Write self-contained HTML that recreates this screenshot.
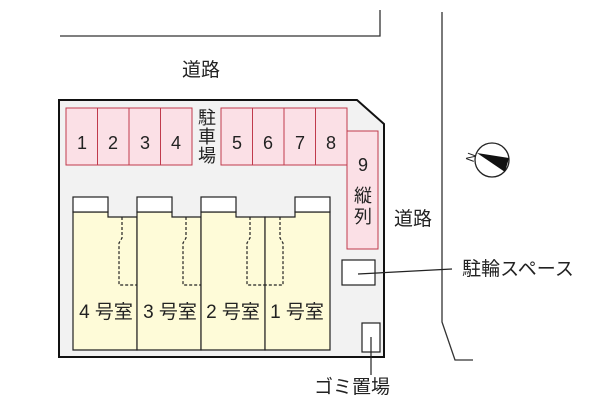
<!DOCTYPE html>
<html><head><meta charset="utf-8"><style>
body{margin:0;background:#fff}
svg text{font-family:"Liberation Sans","Noto Sans CJK JP",sans-serif;fill:#222}
</style></head><body>
<svg width="600" height="400" viewBox="0 0 600 400" xmlns="http://www.w3.org/2000/svg">
<g stroke="#333" stroke-width="1.3" fill="none">
<path d="M60 36 H380 V10"/>
<path d="M442 12 V322 L455 360 H473"/>
</g>
<path d="M59 100 H357 L384 124 V357 H59 Z" fill="#f2f2f2" stroke="#111" stroke-width="2"/>
<g fill="#fbe0e6" stroke="#c03a4c" stroke-width="1">
<rect x="66" y="108" width="31.5" height="57"/><rect x="97.5" y="108" width="31.5" height="57"/>
<rect x="129" y="108" width="31.5" height="57"/><rect x="160.5" y="108" width="31.5" height="57"/>
<rect x="221" y="108" width="31.5" height="57"/><rect x="252.5" y="108" width="31.5" height="57"/>
<rect x="284" y="108" width="31.5" height="57"/><rect x="315.5" y="108" width="31.5" height="57"/>
<rect x="347" y="131" width="31" height="118"/>
</g>
<g font-size="18" text-anchor="middle">
<text x="82" y="149">1</text><text x="113" y="149">2</text><text x="145" y="149">3</text><text x="176" y="149">4</text>
<text x="237" y="149">5</text><text x="268" y="149">6</text><text x="300" y="149">7</text><text x="331" y="149">8</text>
<text x="363" y="171">9</text>
<text x="363" y="202">縦</text><text x="363" y="223">列</text>
<text x="207" y="124">駐</text><text x="207" y="143">車</text><text x="207" y="162">場</text>
</g>
<g fill="#fefbd8" stroke="#222" stroke-width="1.2">
<path d="M73 212 H108 V217 H137 V350 H73 Z"/>
<path d="M137 212 H172 V217 H201 V350 H137 Z"/>
<path d="M201 212 H236 V217 H265 V350 H201 Z"/>
<path d="M265 217 H295 V212 H330 V350 H265 Z"/>
</g>
<g fill="#fff" stroke="#222" stroke-width="1.2">
<rect x="73" y="197" width="35" height="15"/><rect x="137" y="197" width="35" height="15"/>
<rect x="201" y="197" width="35" height="15"/><rect x="295" y="197" width="35" height="15"/>
</g>
<g stroke="#222" stroke-width="1.2" fill="none" stroke-dasharray="3,2">
<path d="M122 217 V238 L119 243 V285 H137"/>
<path d="M186 217 V238 L183 243 V285 H201"/>
<path d="M250 217 V238 L247 243 V285 H265"/>
<path d="M280 217 V238 L283 243 V285 H265"/>
</g>
<g font-size="19" text-anchor="middle">
<text x="106" y="318">4 号室</text><text x="170" y="318">3 号室</text>
<text x="233" y="318">2 号室</text><text x="297" y="318">1 号室</text>
<text x="201" y="76">道路</text><text x="413" y="225">道路</text>
<text x="518" y="275">駐輪スペース</text>
<text x="352" y="393">ゴミ置場</text>
</g>
<rect x="342" y="260" width="33" height="25" fill="#fff" stroke="#222" stroke-width="1.2"/>
<rect x="362" y="323" width="18" height="29" fill="#fff" stroke="#222" stroke-width="1.2"/>
<g stroke="#222" stroke-width="1.2"><path d="M358 274 L452 269"/><path d="M371 337 V375"/></g>
<circle cx="492" cy="160" r="17" fill="#fff" stroke="#222" stroke-width="1.3"/>
<path d="M477 153 L509 158 L505 172 Z" fill="#111"/>
<text x="470" y="162" font-size="12" transform="rotate(-70 470 157)" text-anchor="middle">N</text>
</svg>
</body></html>
